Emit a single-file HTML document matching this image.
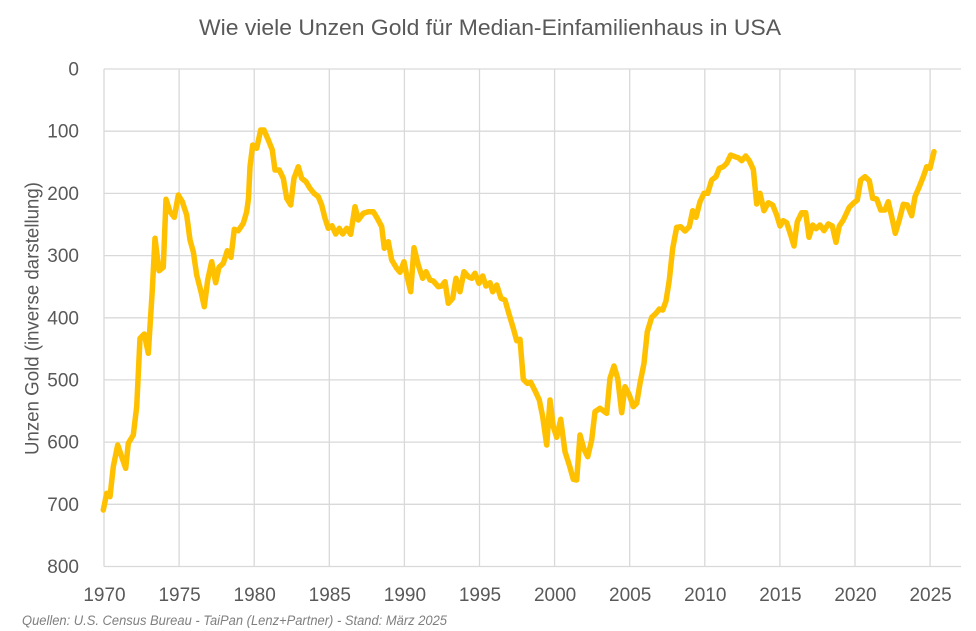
<!DOCTYPE html>
<html>
<head>
<meta charset="utf-8">
<style>
  html, body { margin: 0; padding: 0; background: #ffffff; }
  svg { display: block; }
  text { font-family: "Liberation Sans", "DejaVu Sans", sans-serif; }
</style>
</head>
<body>
<svg width="976" height="631" viewBox="0 0 976 631" xmlns="http://www.w3.org/2000/svg">
  <rect x="0" y="0" width="976" height="631" fill="#ffffff"/>

  <!-- Title -->
  <text x="199" y="35" font-size="22" fill="#595959" textLength="582" lengthAdjust="spacingAndGlyphs">Wie viele Unzen Gold für Median-Einfamilienhaus in USA</text>

  <!-- Gridlines -->
  <g stroke="#d9d9d9" stroke-width="1.3" fill="none">
    <line x1="104" y1="69" x2="961" y2="69"/>
    <line x1="104" y1="131.2" x2="961" y2="131.2"/>
    <line x1="104" y1="193.4" x2="961" y2="193.4"/>
    <line x1="104" y1="255.6" x2="961" y2="255.6"/>
    <line x1="104" y1="317.8" x2="961" y2="317.8"/>
    <line x1="104" y1="379.9" x2="961" y2="379.9"/>
    <line x1="104" y1="442.1" x2="961" y2="442.1"/>
    <line x1="104" y1="504.3" x2="961" y2="504.3"/>
    <line x1="104" y1="566.5" x2="961" y2="566.5"/>

    <line x1="104" y1="69" x2="104" y2="566.5"/>
    <line x1="179.1" y1="69" x2="179.1" y2="566.5"/>
    <line x1="254.2" y1="69" x2="254.2" y2="566.5"/>
    <line x1="329.3" y1="69" x2="329.3" y2="566.5"/>
    <line x1="404.4" y1="69" x2="404.4" y2="566.5"/>
    <line x1="479.5" y1="69" x2="479.5" y2="566.5"/>
    <line x1="554.6" y1="69" x2="554.6" y2="566.5"/>
    <line x1="629.7" y1="69" x2="629.7" y2="566.5"/>
    <line x1="704.8" y1="69" x2="704.8" y2="566.5"/>
    <line x1="779.9" y1="69" x2="779.9" y2="566.5"/>
    <line x1="855" y1="69" x2="855" y2="566.5"/>
    <line x1="930.1" y1="69" x2="930.1" y2="566.5"/>
  </g>

  <!-- Y tick labels -->
  <g font-size="19" fill="#595959" text-anchor="end">
    <text x="79" y="75.5">0</text>
    <text x="79" y="137.7">100</text>
    <text x="79" y="199.9">200</text>
    <text x="79" y="262.1">300</text>
    <text x="79" y="324.3">400</text>
    <text x="79" y="386.4">500</text>
    <text x="79" y="448.6">600</text>
    <text x="79" y="510.8">700</text>
    <text x="79" y="573">800</text>
  </g>

  <!-- X tick labels -->
  <g font-size="19" fill="#595959" text-anchor="middle">
    <text x="104.5" y="601">1970</text>
    <text x="179.6" y="601">1975</text>
    <text x="254.7" y="601">1980</text>
    <text x="329.8" y="601">1985</text>
    <text x="404.9" y="601">1990</text>
    <text x="480" y="601">1995</text>
    <text x="555.1" y="601">2000</text>
    <text x="630.2" y="601">2005</text>
    <text x="705.3" y="601">2010</text>
    <text x="780.4" y="601">2015</text>
    <text x="855.5" y="601">2020</text>
    <text x="930.6" y="601">2025</text>
  </g>

  <!-- Y axis title -->
  <text transform="translate(38.5,455) rotate(-90)" x="0" y="0" font-size="19" fill="#595959" textLength="273" lengthAdjust="spacingAndGlyphs">Unzen Gold (inverse darstellung)</text>

  <!-- Data line -->
  <polyline fill="none" stroke="#FFC000" stroke-width="5.5" stroke-linejoin="round" stroke-linecap="round"
    points="103.3,510 106.7,493.3 110,496.7 113.3,466.7 117.7,445 121.7,456.7 125.7,468.3 128.3,443.3 133.3,435 136.7,406.7 140,338.3 144.3,334 148.3,353.3 152.3,290 155,238.3 159,270.7 163.3,267.3 166,199.3 170,211.7 174.3,217.3 178.3,195 182.3,201.7 186.7,215 190,240 193.3,251.7 196.7,275 201,291.7 204.3,306.7 207.7,280 211.7,261.7 215.7,282.7 219,267.3 223.3,263.3 227.3,250.7 231,257.3 234.3,229.3 238.3,230.7 243.3,223.3 246.7,211.7 248.5,198.3 250,166.7 252.7,145 256.7,148.3 260.7,130 264,130 268.3,140 272.3,150 275,170 279.3,170 283.3,178.3 286.7,198.3 290.7,205 294,178.3 298.3,166.7 301.7,178.3 306,181.7 310,188.3 314,193.3 318.3,196.7 321.7,205 325,218.3 328.3,228.3 332,225.7 335.7,234 339.3,228.3 342.7,234 346.7,228.3 350.7,234.3 355,206.7 358.3,220 363.3,213.3 368.3,211.7 373.3,211.7 377.3,218.3 381.7,226.7 384.3,248.3 388.3,241.7 391.7,260 396.7,268.3 400,272.3 404,261.7 406.7,275 410.7,291.7 414,247.7 418.3,265 422.7,278.3 426,271.7 430,280 433.3,281 438.3,286.7 441.7,286 445,281.7 448.3,303.3 452.7,298.3 456,278.3 460,291.7 464,271.7 468.3,276.7 471.7,278.3 475,273.3 479,283.3 482.7,276 486,286 490,282.7 492.7,291.7 496.7,285 501,298.3 505,300 509.3,315 513.3,328.3 516.7,340.7 520,339.3 523.3,379.3 527.3,383.3 530.7,382.3 535,390.7 539.3,400 542.7,416.7 546.7,445 550,400 553.3,426.7 556.7,437.3 560.7,419.3 565,451.7 569.3,465 573.3,479.3 576.7,480 580,435 584,449.3 587.7,456.7 591.7,440 595,411.7 600,408.3 606.7,413.3 610,378.3 614,366 617.7,378.3 621.7,412.7 625,386.7 629.3,395 633.3,406.7 636.7,403.3 640,383.3 644,363.3 647.3,331.7 651.7,317.3 656,313.3 659.3,309 662.7,310 666,301 669.3,280 672.7,248.3 676.7,227.3 680.7,226.7 685,231 689.3,226.7 692.7,210.7 696,217.3 700,201.7 704,193.3 707.7,193.3 711.7,180 716,176.7 719.3,168.3 723.3,166.7 726.7,163.3 730.7,155 735,156.7 738.3,157.7 741.7,160.7 745.7,156 749.3,160.7 753.3,169.3 756.7,204 760,193.3 764,210.7 768.3,202.7 772.7,205 776.7,215 780,226 783.3,220.7 786.7,222.7 790.7,235 794,246 797.3,221.7 801.7,212.7 805.7,212.7 809,237.3 812.7,225 816,228.7 820,225 824,230.7 828.3,224 832.3,226 836,242.3 839.3,226 843.3,220 849.3,207.3 853.3,203.3 857.3,200 860.7,180 865,176.7 869.3,180.7 872.7,198.3 876.7,199 880.7,210 885,210 888.3,201.7 891.7,216.7 895.3,233.3 899.3,220 903.3,204.3 907.3,205 911.7,215.7 915,196.7 919.3,186.7 923.3,176.7 926.7,166.7 930,168.3 934,151.7"/>

  <!-- Footer -->
  <text x="22" y="625" font-size="13.5" font-style="italic" fill="#7f7f7f" textLength="425" lengthAdjust="spacingAndGlyphs">Quellen: U.S. Census Bureau - TaiPan (Lenz+Partner) - Stand: März 2025</text>
</svg>
</body>
</html>
